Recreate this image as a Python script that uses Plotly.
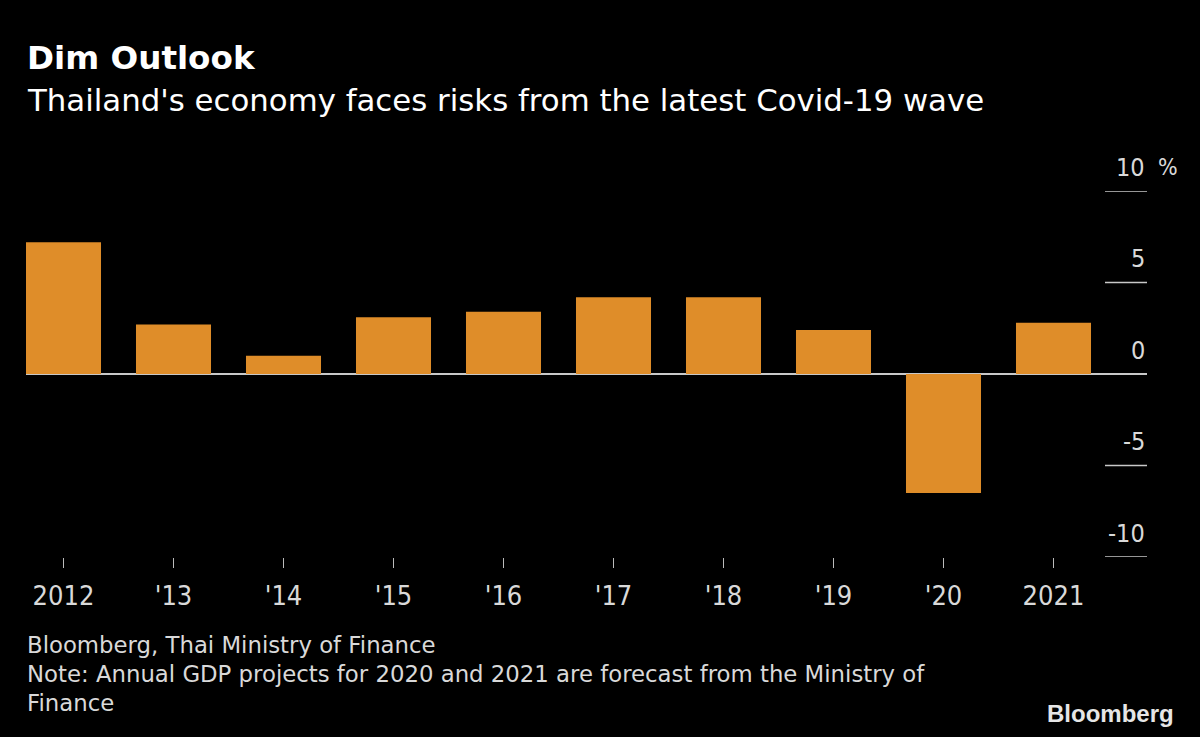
import plotly.graph_objects as go

# ---- data ----
years = ["2012", "'13", "'14", "'15", "'16", "'17", "'18", "'19", "'20", "2021"]
gdp_growth = [7.2, 2.7, 1.0, 3.1, 3.4, 4.2, 4.2, 2.4, -6.5, 2.8]
y_ticks = [10, 5, 0, -5, -10]
y_tick_labels = ["10", "5", "0", "-5", "-10"]

title = "Dim Outlook"
subtitle = "Thailand's economy faces risks from the latest Covid-19 wave"
source = "Bloomberg, Thai Ministry of Finance"
note1 = "Note: Annual GDP projects for 2020 and 2021 are forecast from the Ministry of"
note2 = "Finance"

# ---- layout geometry ----
W, H = 1200, 737
ML, MR, MT, MB = 26, 53, 191, 180
PW = W - ML - MR
PH = H - MT - MB
BG = "#000000"
BAR = "#DF8D29"
TXT = "#D9D9D9"
FONT_C = "DejaVu Sans Condensed"
FONT = "DejaVu Sans"

def px(x):
    return (x - ML) / PW

def py(y):
    return (H - MB - y) / PH

fig = go.Figure()
fig.add_trace(go.Bar(x=years, y=gdp_growth, marker=dict(color=BAR, line=dict(width=0)),
                     hoverinfo="x+y"))

fig.update_layout(
    width=W, height=H,
    margin=dict(l=ML, r=MR, t=MT, b=MB, pad=0),
    paper_bgcolor=BG, plot_bgcolor=BG,
    showlegend=False,
    bargap=0.318,
    font=dict(family=FONT_C, color=TXT, size=24),
    xaxis=dict(type="category", range=[-0.3409, -0.3409 + PW / 110.0],
               showgrid=False, showline=False, zeroline=False,
               ticks="outside", ticklen=10, tickwidth=1, tickcolor="#BBBBBB",
               tickfont=dict(family=FONT_C, size=27, color=TXT),
               ticklabelstandoff=5),
    yaxis=dict(range=[-10, 10], showgrid=False, showline=False,
               showticklabels=False, ticks="",
               zeroline=True, zerolinecolor="#C8C8C8", zerolinewidth=1.5),
)

shapes = []
annotations = []
for v, lab in zip(y_ticks, y_tick_labels):
    if v != 0:
        shapes.append(dict(type="line", xref="paper", yref="y",
                           x0=px(1105), x1=1, y0=v, y1=v,
                           line=dict(color="#C8C8C8", width=1.5)))
    annotations.append(dict(xref="paper", yref="y", x=1, y=v, text=lab,
                            showarrow=False, xanchor="right", yanchor="middle",
                            yshift=24, font=dict(family=FONT_C, size=25, color=TXT)))
annotations.append(dict(xref="paper", yref="y", x=px(1156), y=y_ticks[0], text="%",
                        showarrow=False, xanchor="left", yanchor="middle", yshift=24,
                        font=dict(family=FONT_C, size=23, color=TXT)))

annotations += [
    dict(xref="paper", yref="paper", x=px(25), y=py(58), text="<b>" + title + "</b>",
         showarrow=False, xanchor="left", yanchor="middle",
         font=dict(family=FONT, size=32.6, color="#FFFFFF")),
    dict(xref="paper", yref="paper", x=px(25), y=py(100), text=subtitle,
         showarrow=False, xanchor="left", yanchor="middle",
         font=dict(family=FONT, size=30.8, color="#FFFFFF")),
    dict(xref="paper", yref="paper", x=px(25), y=py(645), text=source,
         showarrow=False, xanchor="left", yanchor="middle",
         font=dict(family=FONT, size=22.8, color=TXT)),
    dict(xref="paper", yref="paper", x=px(25), y=py(674), text=note1,
         showarrow=False, xanchor="left", yanchor="middle",
         font=dict(family=FONT, size=22.8, color=TXT)),
    dict(xref="paper", yref="paper", x=px(25), y=py(703), text=note2,
         showarrow=False, xanchor="left", yanchor="middle",
         font=dict(family=FONT, size=22.8, color=TXT)),
    dict(xref="paper", yref="paper", x=px(1176), y=py(713), text="<b>Bloomberg</b>",
         showarrow=False, xanchor="right", yanchor="middle",
         font=dict(family="Liberation Sans", size=24, color="#E6E6E6")),
]

fig.update_layout(shapes=shapes, annotations=annotations)
fig.write_html(
    "out.html",
    config={"displayModeBar": False},
    post_script="document.body.style.margin='0';document.body.style.background='#000';"
                "document.documentElement.style.background='#000';"
                "document.body.style.overflow='hidden';",
)
